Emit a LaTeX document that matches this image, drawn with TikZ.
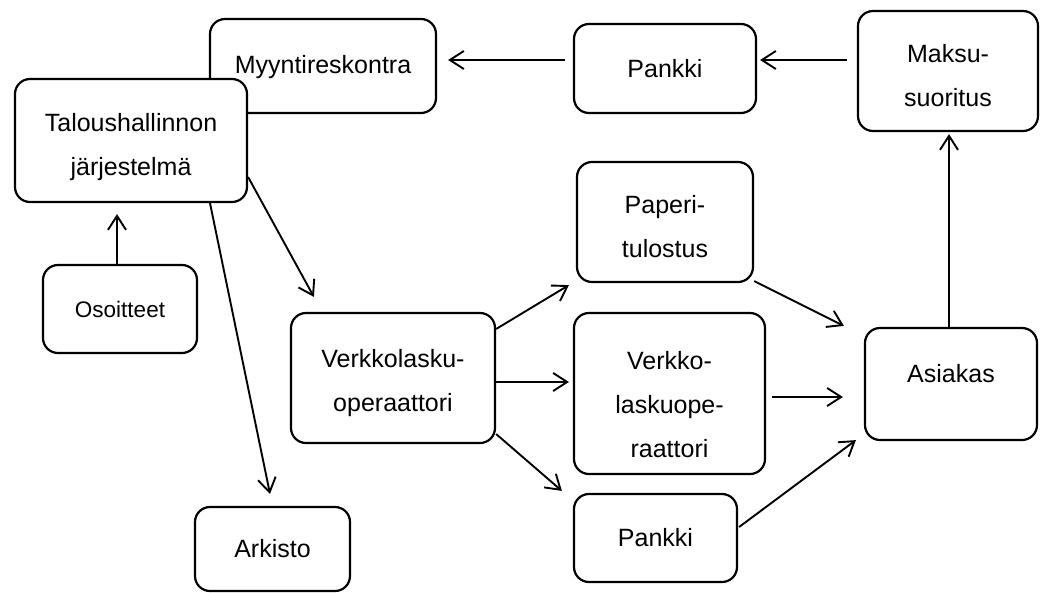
\documentclass[tikz,border=0pt]{standalone}
\usepackage{fontspec}
\setmainfont{Liberation Sans}
\usetikzlibrary{arrows.meta,calc}
\begin{document}
\begin{tikzpicture}[x=1pt,y=-1pt,
  box/.style={draw, line width=2.2pt, rounded corners=15pt, fill=white, align=center, inner sep=0pt, font=\fontsize{25}{44}\selectfont},
  txt/.style={align=center, inner sep=0pt, font=\fontsize{25}{44}\selectfont},
  conn/.style={line width=1.9pt, -{Straight Barb[length=14pt,width=18pt]}}]
\useasboundingbox (0,0) rectangle (1049,592);
\node[box, minimum width=226pt, minimum height=94pt, text depth=4pt] (myy) at (323,66) {Myyntireskontra};
\node[box, minimum width=232pt, minimum height=123pt,
  label={[txt, yshift=-7pt]center:Taloushallinnon\\järjestelmä}] (tal) at (131,140.5) {};
\node[box, minimum width=154pt, minimum height=88pt, font=\fontsize{22.5}{30}\selectfont] (oso) at (120,309) {Osoitteet};
\node[box, minimum width=182pt, minimum height=89pt] (pk1) at (665,68.5) {Pankki};
\node[box, minimum width=180pt, minimum height=120pt,
  label={[txt, yshift=-5pt]center:Maksu-\\suoritus}] (mak) at (948,71) {};
\node[box, minimum width=176pt, minimum height=120pt,
  label={[txt, yshift=-5pt]center:Paperi-\\tulostus}] (pap) at (665,222) {};
\node[box, minimum width=204pt, minimum height=130pt,
  label={[txt, yshift=-5pt]center:Verkkolasku-\\operaattori}] (vlo) at (393,378) {};
\node[box, minimum width=191pt, minimum height=161pt,
  label={[txt, yshift=-11pt]center:Verkko-\\laskuope-\\raattori}] (vlk) at (669.5,393.5) {};
\node[box, minimum width=172pt, minimum height=112pt, text depth=22pt] (asi) at (951,384) {Asiakas};
\node[box, minimum width=163pt, minimum height=88pt] (pk2) at (655.5,538) {Pankki};
\node[box, minimum width=155pt, minimum height=84pt] (ark) at (272.5,549) {Arkisto};

\draw[conn] ($(mak.west)+(-10,-11)$) -- ($(pk1.east)+(3,-8.5)$);
\draw[conn] ($(pk1.west)+(-8,-8.5)$) -- ($(myy.east)+(11,-6)$);
\draw[conn] ($(tal.east)+(0,36.5)$) -- ($(vlo.north west)+(24,-15)$);
\draw[conn] ($(tal.south)+(79,0)$) -- ($(ark.north)+(-2.5,-12)$);
\draw[conn] ($(oso.north)+(-3,0)$) -- ($(tal.south)+(-14,11)$);
\draw[conn] ($(vlo.east)+(0,-49)$) -- ($(pap.south west)+(-7,2)$);
\draw[conn] ($(vlo.east)+(0,4)$) -- ($(vlk.west)+(-4,-11.5)$);
\draw[conn] ($(vlo.east)+(0,56)$) -- ($(pk2.north west)+(-11,-2)$);
\draw[conn] ($(pap.south east)+(0,-2)$) -- ($(asi.north west)+(-20,-1)$);
\draw[conn] ($(vlk.east)+(6,3.5)$) -- ($(asi.west)+(-21,13)$);
\draw[conn] ($(pk2.east)+(1,-11)$) -- ($(asi.south west)+(-8,-1)$);
\draw[conn] ($(asi.north)+(-2,0)$) -- ($(mak.south)+(1,2)$);
\end{tikzpicture}
\end{document}
